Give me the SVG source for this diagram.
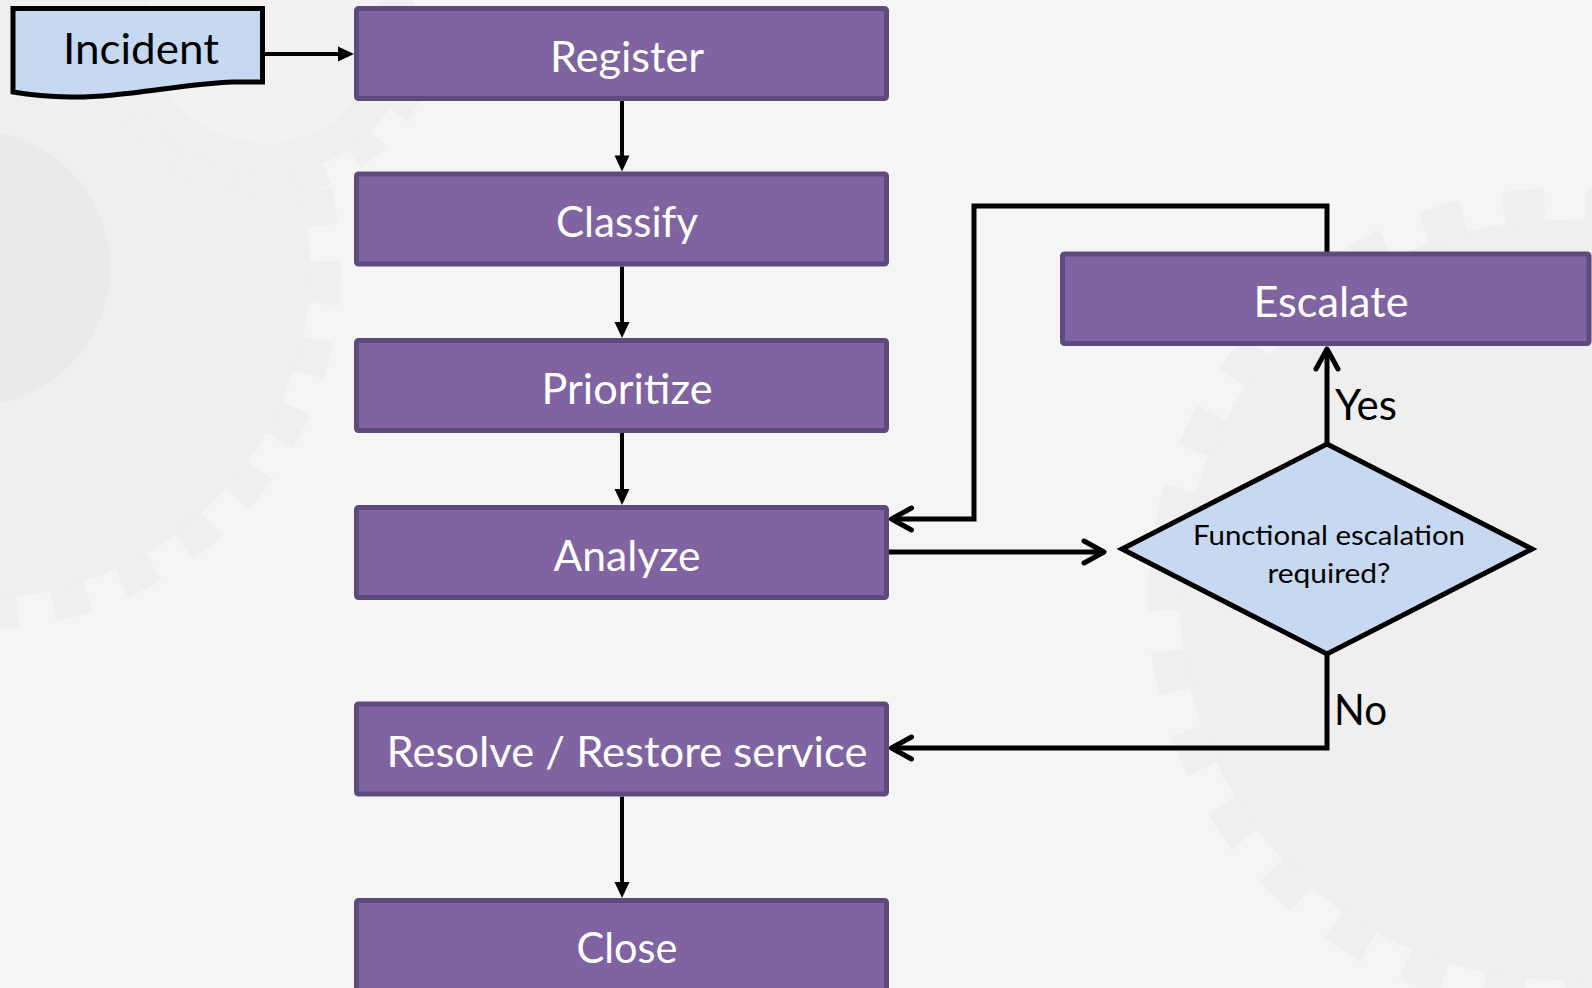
<svg xmlns="http://www.w3.org/2000/svg" width="1592" height="988" viewBox="0 0 1592 988">
  <style>
    .bg { fill: #F5F5F5; }
    .gear { fill: #EFEFEF; }
    .gearTeeth { fill: none; stroke: #EFEFEF; }
    .hub { fill: #EAEAEA; }
    .proc { fill: #8064A2; stroke: #5E4A7C; stroke-width: 5; }
    .ptxt { font-family: "Lato", "Open Sans", sans-serif; font-size: 42px; fill: #FFFFFF; text-anchor: middle; }
    .doc { fill: #C6D9F1; stroke: #000000; stroke-width: 5; stroke-linejoin: miter; }
    .btxt { font-family: "Lato", "Open Sans", sans-serif; font-size: 42px; fill: #000000; }
    .dtxt { font-family: "Lato", "Open Sans", sans-serif; font-size: 26px; fill: #000000; text-anchor: middle; }
    .flow { fill: none; stroke: #000000; stroke-width: 4; marker-end: url(#tri); }
    .link { fill: none; stroke: #000000; stroke-width: 5; stroke-linejoin: miter; }
    .arrow { marker-end: url(#chev); }
  </style>
  <defs>
    <marker id="tri" markerUnits="userSpaceOnUse" viewBox="0 0 16 15" markerWidth="16" markerHeight="15" refX="8" refY="7.5" orient="auto" style="overflow:visible">
      <path d="M0,0 L16,7.5 L0,15 Z" fill="#000000"/>
    </marker>
    <marker id="chev" markerUnits="userSpaceOnUse" viewBox="0 0 20 22" markerWidth="20" markerHeight="22" refX="20" refY="11" orient="auto" style="overflow:visible">
      <path d="M0,0 L20,11 L0,22" fill="none" stroke="#000000" stroke-width="5" stroke-linecap="round" stroke-linejoin="round"/>
    </marker>
  </defs>

  <rect class="bg" x="0" y="0" width="1592" height="988"/>

  <g id="background-gears">
    <circle class="gear" cx="-20" cy="268" r="330"/>
    <circle class="gearTeeth" cx="-20" cy="268" r="345" stroke-width="32" stroke-dasharray="36 36"/>
    <circle class="hub" cx="-28" cy="268" r="138"/>
    <circle class="gear" cx="265" cy="25" r="150"/>
    <circle class="gearTeeth" cx="265" cy="25" r="160" stroke-width="24" stroke-dasharray="31.4 31.4"/>
    <circle fill="#F2F2F2" cx="265" cy="25" r="118"/>
    <circle class="gear" cx="1560" cy="600" r="380"/>
    <circle class="gearTeeth" cx="1560" cy="600" r="395" stroke-width="34" stroke-dasharray="41 41"/>
  </g>

  <g id="connectors">
    <path class="flow" d="M264.5,54 H346"/>
    <path class="flow" d="M622,101 V163.5"/>
    <path class="flow" d="M622,266.5 V330"/>
    <path class="flow" d="M622,433 V497"/>
    <path class="flow" d="M622,796.5 V890"/>
    <path class="link arrow" d="M1327,252 V206 H974 V519 H891.5"/>
    <path class="link arrow" d="M889,552 H1104"/>
    <path class="link arrow" d="M1327,444 V349"/>
    <path class="link arrow" d="M1327,654 V748 H891.5"/>
    <text class="btxt" x="1335" y="420" textLength="62" lengthAdjust="spacingAndGlyphs">Yes</text>
    <text class="btxt" x="1334" y="725" textLength="53" lengthAdjust="spacingAndGlyphs">No</text>
  </g>

  <g id="incident">
    <path class="doc" d="M13,8.5 H262.5 V82 L233,82 C180,84 120,98 70,97 C45,96.5 25,94 13,92 Z"/>
    <text class="btxt" x="141" y="63.5" text-anchor="middle" textLength="156" lengthAdjust="spacingAndGlyphs">Incident</text>
  </g>

  <g id="register">
    <rect class="proc" x="356.5" y="8.5" width="530" height="90" rx="2"/>
    <text class="ptxt" x="627" y="71.5" textLength="154" lengthAdjust="spacingAndGlyphs">Register</text>
  </g>

  <g id="classify">
    <rect class="proc" x="356.5" y="174" width="530" height="90" rx="2"/>
    <text class="ptxt" x="627" y="237" textLength="142" lengthAdjust="spacingAndGlyphs">Classify</text>
  </g>

  <g id="prioritize">
    <rect class="proc" x="356.5" y="340.5" width="530" height="90" rx="2"/>
    <text class="ptxt" x="627" y="404" textLength="171" lengthAdjust="spacingAndGlyphs">Prioritize</text>
  </g>

  <g id="analyze">
    <rect class="proc" x="356.5" y="507.5" width="530" height="90" rx="2"/>
    <text class="ptxt" x="627" y="570.5" textLength="147" lengthAdjust="spacingAndGlyphs">Analyze</text>
  </g>

  <g id="resolve">
    <rect class="proc" x="356.5" y="704" width="530" height="90" rx="2"/>
    <text class="ptxt" x="627" y="767" textLength="481" lengthAdjust="spacingAndGlyphs">Resolve / Restore service</text>
  </g>

  <g id="close">
    <rect class="proc" x="356.5" y="900.5" width="530" height="90" rx="2"/>
    <text class="ptxt" x="627" y="963" textLength="101" lengthAdjust="spacingAndGlyphs">Close</text>
  </g>

  <g id="escalate">
    <rect class="proc" x="1062.5" y="254" width="526.5" height="89.5" rx="2"/>
    <text class="ptxt" x="1331" y="316.5" textLength="155" lengthAdjust="spacingAndGlyphs">Escalate</text>
  </g>

  <g id="decision">
    <polygon class="doc" points="1327,444 1532,549 1327,654 1122,549"/>
    <text class="dtxt" x="1329" y="545" textLength="272" lengthAdjust="spacingAndGlyphs">Functional escalation</text>
    <text class="dtxt" x="1329" y="583" textLength="123" lengthAdjust="spacingAndGlyphs">required?</text>
  </g>
</svg>
